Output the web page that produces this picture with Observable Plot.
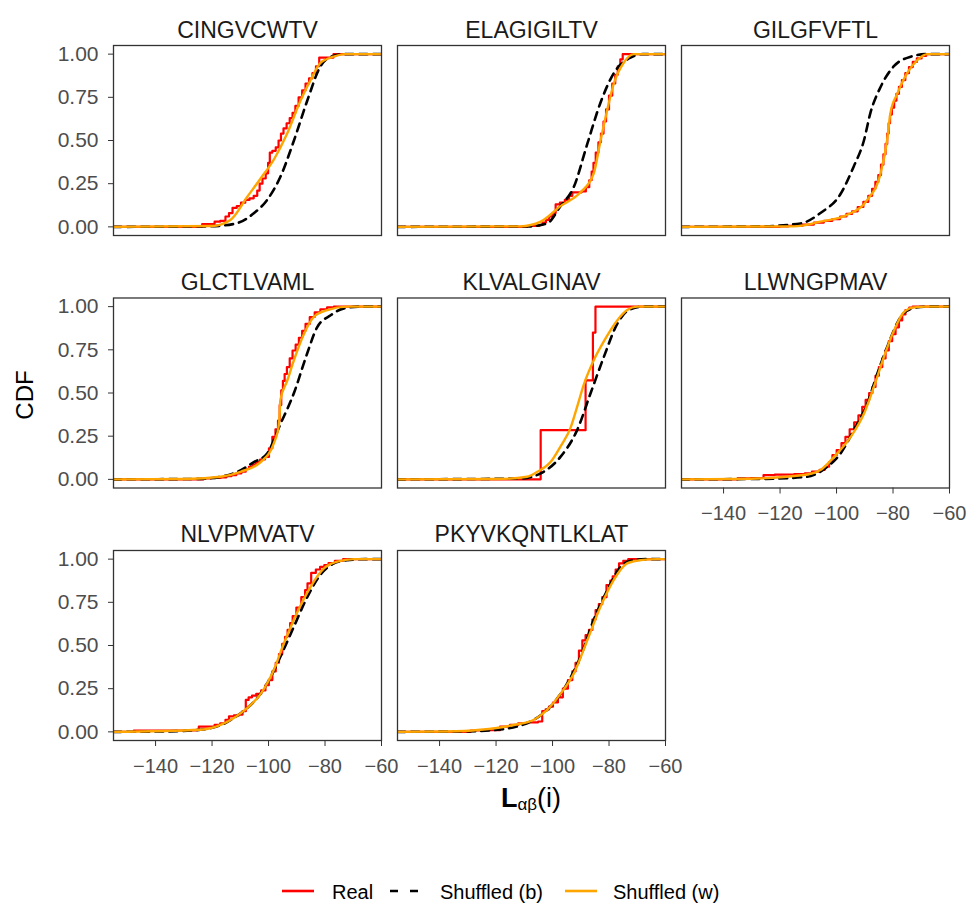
<!DOCTYPE html>
<html>
<head>
<meta charset="utf-8">
<script src="https://cdn.jsdelivr.net/npm/d3@7"></script>
<script src="https://cdn.jsdelivr.net/npm/@observablehq/plot@0.6"></script>
<style>
  body { margin: 0; background: #fff; }
  #wrap { position: relative; width: 979px; height: 903px; font-family: "Liberation Sans", Arial, Helvetica, sans-serif; color: #000; }
  #wrap svg.plot { position: absolute; left: 0; top: 0; display: block; }
  .ylab { position: absolute; left: 25px; top: 395px; transform: translate(-50%, -50%) rotate(-90deg); font-size: 24px; white-space: nowrap; line-height: 24px; }
  .xlab { position: absolute; left: 531px; top: 785px; transform: translateX(-50%); font-size: 27px; line-height: 27px; white-space: nowrap; }
  .xlab b { font-weight: bold; }
  .xlab sub { font-size: 17px; vertical-align: -3px; line-height: 0; }
  .leg { position: absolute; top: 882px; height: 20px; font-size: 20px; line-height: 20px; white-space: nowrap; color: #000; }
  .sw { position: absolute; }
</style>
</head>
<body>
<div id="wrap"></div>
<script>
// ---- data ----
const panels = ["CINGVCWTV", "ELAGIGILTV", "GILGFVFTL", "GLCTLVAML", "KLVALGINAV", "LLWNGPMAV", "NLVPMVATV", "PKYVKQNTLKLAT"];
const seriesNames = ["Real", "Shuffled (b)", "Shuffled (w)"];
const seriesColors = ["#FF0000", "#000000", "#FFA500"];
const xTicks = [-140, -120, -100, -80, -60];
const yTicks = [0, 0.25, 0.5, 0.75, 1];

// Real: empirical CDF readings [L, CDF]
const real = [
  [[-155,0],[-123.5,0],[-123.5,0.016],[-120,0.016],[-118.2,0.03],[-116,0.035],[-114.5,0.06],[-113.5,0.08],[-112,0.11],[-110.5,0.12],[-109,0.14],[-107.5,0.156],[-106,0.165],[-104.5,0.18],[-103.5,0.21],[-102.8,0.25],[-101.5,0.28],[-100.5,0.31],[-99.8,0.37],[-99.3,0.43],[-98,0.44],[-96.9,0.46],[-96,0.5],[-95.2,0.54],[-94.2,0.57],[-93,0.6],[-92,0.63],[-91,0.66],[-90,0.7],[-88.7,0.75],[-87.5,0.79],[-86.3,0.83],[-85,0.86],[-83.9,0.89],[-82.5,0.93],[-81.6,0.98],[-78,0.98],[-76,1],[-60,1]],
  [[-155,0],[-109,0],[-109,0.005],[-105,0.006],[-104.2,0.012],[-102.8,0.025],[-101.9,0.04],[-100.5,0.06],[-99.5,0.08],[-98.3,0.13],[-96.5,0.14],[-94.8,0.156],[-93.5,0.18],[-92.5,0.2],[-90.5,0.2],[-88.9,0.205],[-87.5,0.23],[-86.5,0.27],[-85.8,0.32],[-85.2,0.37],[-84.2,0.43],[-83.3,0.49],[-82.4,0.54],[-81.5,0.61],[-80.6,0.68],[-79.4,0.76],[-78.3,0.83],[-77.3,0.88],[-76.5,0.93],[-75.5,0.97],[-74.8,1],[-60,1]],
  [[-155,0],[-120,0],[-120,0.003],[-114,0.006],[-110,0.013],[-106,0.025],[-103,0.035],[-100,0.045],[-97.5,0.06],[-95.5,0.075],[-93.5,0.09],[-91.5,0.115],[-89.5,0.145],[-88,0.18],[-86.8,0.22],[-85.7,0.26],[-84.7,0.3],[-83.8,0.36],[-83,0.42],[-82.3,0.48],[-81.8,0.54],[-81.3,0.6],[-80.8,0.65],[-80,0.69],[-79.2,0.73],[-78.4,0.77],[-77.4,0.81],[-76.3,0.85],[-75,0.89],[-73.7,0.925],[-72.3,0.955],[-70.8,0.975],[-69,0.99],[-67.5,1],[-60,1]],
  [[-155,0],[-123,0],[-123,0.005],[-118,0.008],[-115.8,0.012],[-114,0.018],[-112.3,0.025],[-110.5,0.035],[-108.7,0.044],[-107.5,0.06],[-106.4,0.073],[-105,0.085],[-104,0.1],[-102,0.115],[-100.5,0.13],[-99.2,0.18],[-98.1,0.246],[-97,0.29],[-96.3,0.34],[-95.8,0.43],[-95.2,0.515],[-94.6,0.57],[-94,0.61],[-93,0.65],[-92,0.7],[-91,0.746],[-89.8,0.78],[-88.7,0.82],[-87.5,0.86],[-86.3,0.9],[-84.5,0.94],[-82.8,0.967],[-80.5,0.985],[-78,0.996],[-75.7,1],[-60,1]],
  [[-155,0],[-104.2,0],[-104.2,0.285],[-88.3,0.285],[-88.3,0.573],[-85.7,0.573],[-85.7,0.85],[-84.8,0.85],[-84.8,1],[-60,1]],
  [[-155,0],[-135,0],[-135,0.006],[-126,0.008],[-125.7,0.025],[-118,0.027],[-112,0.03],[-110.4,0.035],[-107,0.045],[-105,0.055],[-103.3,0.073],[-102,0.1],[-100.9,0.14],[-99,0.17],[-97.5,0.21],[-96.2,0.246],[-94.5,0.29],[-93,0.33],[-91.5,0.37],[-90.3,0.42],[-89.1,0.46],[-87.8,0.5],[-86.8,0.535],[-85.6,0.6],[-84.4,0.65],[-83.2,0.7],[-82.1,0.746],[-80.9,0.8],[-79.7,0.84],[-78.5,0.88],[-77.3,0.92],[-76.2,0.955],[-75,0.98],[-73.5,0.995],[-72.6,1],[-60,1]],
  [[-155,0],[-147.7,0],[-147.7,0.008],[-126,0.008],[-125.3,0.012],[-124.1,0.03],[-120,0.03],[-118.2,0.04],[-116,0.05],[-114.5,0.07],[-113.5,0.09],[-111,0.095],[-109.9,0.1],[-108.5,0.12],[-107.6,0.185],[-106.5,0.2],[-105.2,0.21],[-103.5,0.22],[-101.7,0.24],[-100.5,0.27],[-99.3,0.3],[-98,0.35],[-96.9,0.4],[-95.7,0.45],[-94.6,0.51],[-93.7,0.55],[-92.8,0.59],[-91.9,0.63],[-91,0.67],[-89.3,0.72],[-87.5,0.78],[-86.6,0.82],[-85.8,0.86],[-84,0.92],[-82.5,0.94],[-81,0.955],[-79.5,0.965],[-78,0.977],[-75,0.99],[-72.2,1],[-60,1]],
  [[-155,0],[-129,0],[-129,0.008],[-120,0.01],[-117.2,0.03],[-113,0.04],[-111.3,0.05],[-106,0.055],[-104.2,0.06],[-103.1,0.12],[-101.8,0.13],[-100.7,0.146],[-99,0.17],[-97.2,0.2],[-95.5,0.25],[-93.6,0.3],[-92.4,0.35],[-91.3,0.4],[-90,0.47],[-88.9,0.53],[-87.7,0.56],[-86.5,0.59],[-85.3,0.65],[-84.2,0.705],[-83,0.74],[-81.8,0.78],[-80,0.85],[-79.1,0.875],[-78.3,0.9],[-77,0.94],[-75.9,0.975],[-74,0.99],[-72.4,1],[-60,1]]
];

// Shuffled (b)
const shuffledB = [
  [[-155,0],[-121.5,0.003],[-112.2,0.017],[-105.1,0.08],[-100.5,0.156],[-95.8,0.29],[-91,0.5],[-86.3,0.73],[-81.6,0.93],[-78,0.985],[-73,1],[-60,1]],
  [[-155,0],[-108,0.003],[-101.9,0.02],[-97.2,0.12],[-92.5,0.23],[-87.7,0.48],[-83,0.72],[-78.3,0.89],[-73,0.975],[-68,1],[-60,1]],
  [[-155,0],[-126.9,0.003],[-112.7,0.02],[-105.7,0.08],[-98.6,0.19],[-93.9,0.35],[-90.3,0.5],[-88,0.66],[-84.4,0.81],[-79.7,0.93],[-73.8,0.985],[-67.9,1],[-60,1]],
  [[-155,0],[-124,0.003],[-112.3,0.035],[-105.2,0.1],[-100.5,0.15],[-95.8,0.32],[-91,0.5],[-86.3,0.73],[-82.8,0.88],[-78,0.95],[-73.3,0.99],[-67.4,1],[-60,1]],
  [[-155,0],[-111.3,0.005],[-104.2,0.035],[-97.2,0.13],[-91.3,0.285],[-86.5,0.5],[-81.8,0.71],[-77.1,0.9],[-73,0.98],[-68,1],[-60,1]],
  [[-155,0],[-125,0.003],[-110.4,0.015],[-103.3,0.073],[-98.6,0.15],[-93.9,0.285],[-89.1,0.44],[-85.6,0.61],[-82.1,0.765],[-77.3,0.94],[-73.8,0.987],[-68,1],[-60,1]],
  [[-155,0],[-135,0.003],[-124.1,0.012],[-112.3,0.08],[-100.5,0.28],[-95.8,0.435],[-91,0.61],[-86.3,0.78],[-81.6,0.91],[-76.9,0.975],[-72.2,0.994],[-66,1],[-60,1]],
  [[-155,0],[-130,0.003],[-119.6,0.012],[-107.8,0.06],[-101.9,0.127],[-94.8,0.28],[-90.1,0.435],[-85.4,0.65],[-80.6,0.82],[-75.9,0.956],[-72.4,0.99],[-67,1],[-60,1]]
];

// Shuffled (w)
const shuffledW = [
  [[-155,0],[-120,0.005],[-113.5,0.04],[-107.5,0.175],[-102.8,0.28],[-98.1,0.39],[-93.4,0.54],[-88.7,0.73],[-85.1,0.85],[-81.6,0.95],[-77,0.985],[-73,1],[-60,1]],
  [[-155,0],[-111.3,0.003],[-104.2,0.03],[-97.2,0.12],[-90.1,0.2],[-85.4,0.31],[-83,0.5],[-80.6,0.68],[-78.3,0.83],[-74.8,0.95],[-71.2,1],[-60,1]],
  [[-155,0],[-115.1,0.003],[-105.7,0.03],[-96.2,0.07],[-89.1,0.156],[-84.4,0.31],[-82.1,0.5],[-80.9,0.66],[-78.5,0.77],[-75,0.89],[-71.4,0.965],[-67.9,1],[-60,1]],
  [[-155,0],[-128.8,0.002],[-117,0.015],[-109.9,0.044],[-102.8,0.1],[-98.1,0.21],[-96.3,0.32],[-95.8,0.46],[-93.4,0.57],[-91,0.69],[-87.5,0.84],[-84,0.94],[-79.2,0.98],[-72.2,1],[-60,1]],
  [[-155,0],[-119.6,0.002],[-109,0.015],[-105.4,0.044],[-100.7,0.1],[-97.2,0.19],[-93.6,0.3],[-91.3,0.42],[-88.9,0.55],[-85.4,0.69],[-81.8,0.8],[-77.1,0.92],[-73.6,0.98],[-70,1],[-60,1]],
  [[-155,0],[-135.2,0.002],[-111.6,0.025],[-105.7,0.054],[-100.9,0.13],[-95,0.246],[-90.3,0.38],[-86.8,0.535],[-83.2,0.71],[-79.7,0.86],[-76.2,0.967],[-72.6,0.996],[-67.9,1],[-60,1]],
  [[-155,0],[-124.1,0.012],[-117,0.04],[-112.3,0.08],[-107.6,0.137],[-102.8,0.22],[-98.1,0.36],[-94.6,0.51],[-89.9,0.69],[-85.1,0.84],[-80.4,0.946],[-75.7,0.985],[-69.8,1],[-60,1]],
  [[-155,0],[-137.3,0.002],[-125.5,0.012],[-113.7,0.04],[-106.6,0.07],[-101.9,0.127],[-97.2,0.22],[-92.4,0.34],[-87.7,0.53],[-83,0.725],[-78.3,0.88],[-73.6,0.975],[-68.8,0.994],[-63,1],[-60,1]]
];

// ---- build tidy rows ----
function toRows(list, series) {
  const out = [];
  list.forEach((arr, i) => {
    for (const [x, y] of arr) out.push({panel: panels[i], col: i % 3, row: Math.floor(i / 3), series, x, y});
  });
  return out;
}
const realRows = toRows(real, seriesNames[0]);
const bRows = toRows(shuffledB, seriesNames[1]);
const wRows = toRows(shuffledW, seriesNames[2]);
const titleRows = panels.map((p, i) => ({panel: p, col: i % 3, row: Math.floor(i / 3)}));

const facet = {fx: "col", fy: "row"};

const chart = Plot.plot({
  width: 979,
  height: 830,
  marginLeft: 113,
  marginRight: 30,
  marginTop: 45,
  marginBottom: 90,
  style: {fontFamily: "'Liberation Sans', Arial, Helvetica, sans-serif", fontSize: "20px", background: "#fff"},
  x: {domain: [-154.9, -60]},
  y: {domain: [-0.05, 1.05]},
  fx: {domain: [0, 1, 2], paddingInner: 16 / 284, paddingOuter: 0, round: false, axis: null},
  fy: {domain: [0, 1, 2], paddingInner: 0.2475, paddingOuter: 0, round: false, axis: null},
  marks: [
    Plot.line(realRows, {...facet, x: "x", y: "y", z: "panel", stroke: seriesColors[0], strokeWidth: 2.2, curve: "step", clip: true}),
    Plot.line(bRows, {...facet, x: "x", y: "y", z: "panel", stroke: seriesColors[1], strokeWidth: 2.6, strokeDasharray: "8,6", curve: "monotone-x", clip: true}),
    Plot.line(wRows, {...facet, x: "x", y: "y", z: "panel", stroke: seriesColors[2], strokeWidth: 2.4, curve: "monotone-x", clip: true}),
    Plot.text(titleRows, {...facet, text: "panel", frameAnchor: "top", lineAnchor: "bottom", dy: -8, fontSize: 23, fill: "#1a1a1a"}),
    Plot.axisY(yTicks, {tickFormat: d3.format(".2f"), tickSize: 5, tickPadding: 10, stroke: "#333", fill: "#4d4d4d", fontSize: 21, label: null}),
    Plot.axisX(xTicks, {tickFormat: d3.format("d"), tickSize: 6, tickPadding: 12, stroke: "#333", fill: "#4d4d4d", fontSize: 20, label: null}),
    Plot.frame({stroke: "#333", strokeWidth: 1.3})
  ]
});

const wrap = document.getElementById("wrap");
chart.classList.add("plot");
wrap.appendChild(chart);

// axis titles
const ylab = document.createElement("div");
ylab.className = "ylab";
ylab.textContent = "CDF";
wrap.appendChild(ylab);

const xlab = document.createElement("div");
xlab.className = "xlab";
xlab.innerHTML = "<b>L</b><sub>αβ</sub>(i)";
wrap.appendChild(xlab);

// legend
const legendPos = [{sw: 282, tx: 332}, {sw: 390, tx: 440}, {sw: 565, tx: 613}];
const legendDash = [null, "8,12", null];
seriesNames.forEach((name, i) => {
  const ns = "http://www.w3.org/2000/svg";
  const s = document.createElementNS(ns, "svg");
  s.setAttribute("class", "sw");
  s.setAttribute("width", 32);
  s.setAttribute("height", 6);
  s.style.left = legendPos[i].sw + "px";
  s.style.top = "888px";
  const l = document.createElementNS(ns, "line");
  l.setAttribute("x1", 0); l.setAttribute("x2", 32);
  l.setAttribute("y1", 3); l.setAttribute("y2", 3);
  l.setAttribute("stroke", seriesColors[i]);
  l.setAttribute("stroke-width", 2.6);
  if (legendDash[i]) l.setAttribute("stroke-dasharray", legendDash[i]);
  s.appendChild(l);
  wrap.appendChild(s);
  const t = document.createElement("div");
  t.className = "leg";
  t.style.left = legendPos[i].tx + "px";
  t.textContent = name;
  wrap.appendChild(t);
});
</script>
</body>
</html>
